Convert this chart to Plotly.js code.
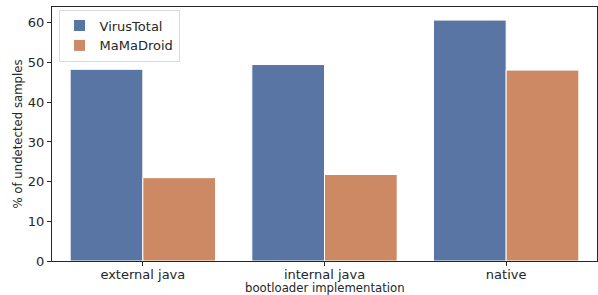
<!DOCTYPE html>
<html><head><meta charset="utf-8">
<script src="https://cdn.plot.ly/plotly-3.0.1.min.js"></script>
<style>body{margin:0;padding:0;background:#fff}#chart{width:598px;height:295px}</style>
</head><body><div id="chart"></div>
<script>
const categories = ["external java", "internal java", "native"];
const virusTotal = [48.3, 49.5, 60.7];
const mamaDroid = [21.0, 21.8, 48.1];
const seriesNames = ["VirusTotal", "MaMaDroid"];
const xTitle = "bootloader implementation";
const yTitle = "% of undetected samples";

const font = "DejaVu Sans, sans-serif";
const traces = [
  {type:"bar", name:seriesNames[0], x:categories, y:virusTotal,
   marker:{color:"#5875a4", line:{color:"#ffffff", width:1}}},
  {type:"bar", name:seriesNames[1], x:categories, y:mamaDroid,
   marker:{color:"#cc8963", line:{color:"#ffffff", width:1}}}
];
const layout = {
  width:598, height:295,
  margin:{l:52, r:1, t:7, b:34},
  paper_bgcolor:"#fff", plot_bgcolor:"#fff",
  barmode:"group", bargap:0.2, bargroupgap:0,
  font:{family:font, color:"#262626"},
  showlegend:true,
  legend:{x:0.012, y:0.99, xanchor:"left", yanchor:"top",
    bordercolor:"#dcdcdc", borderwidth:1, bgcolor:"rgba(255,255,255,0.8)",
    font:{size:13, family:font, color:"#262626"}, tracegroupgap:0},
  xaxis:{showline:true, linecolor:"#262626", linewidth:1, mirror:true,
    ticks:"outside", ticklen:4, tickcolor:"#262626", ticklabelstandoff:-3,
    tickfont:{size:13, family:font, color:"#262626"},
    showgrid:false, zeroline:false, fixedrange:true, automargin:false},
  yaxis:{range:[0,64], showline:true, linecolor:"#262626", linewidth:1, mirror:true,
    ticks:"outside", ticklen:4, tickcolor:"#262626", tickvals:[0,10,20,30,40,50,60],
    tickfont:{size:13, family:font, color:"#262626"},
    title:{text:yTitle, font:{size:11.7, family:font, color:"#262626"}, standoff:2},
    showgrid:false, zeroline:false, fixedrange:true},
  annotations:[{text:xTitle, xref:"paper", yref:"paper", x:0.5, y:-0.108,
    xanchor:"center", yanchor:"middle", showarrow:false,
    font:{size:11.7, family:font, color:"#262626"}}]
};
Plotly.newPlot("chart", traces, layout, {displayModeBar:false, staticPlot:true});
</script></body></html>
